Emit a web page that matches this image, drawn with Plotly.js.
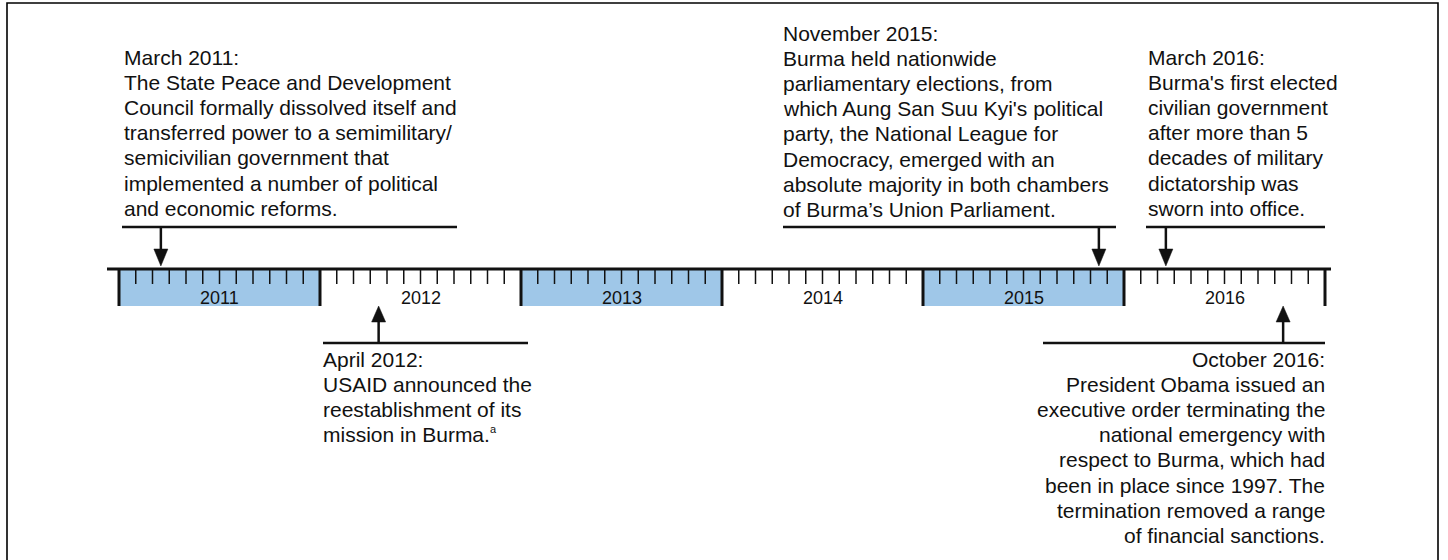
<!DOCTYPE html>
<html>
<head>
<meta charset="utf-8">
<script src="https://cdn.plot.ly/plotly-3.0.1.min.js"></script>
<style>html,body{margin:0;padding:0;background:#fff;}#chart{width:1448px;height:560px;}</style>
</head>
<body>
<div id="chart"></div>
<script>
// ---------------- DATA ----------------
const years = [2011, 2012, 2013, 2014, 2015, 2016];
const yearLabels = ['2011', '2012', '2013', '2014', '2015', '2016'];
const yearShaded = [true, false, true, false, true, false];

const eventYears  = [2011, 2012, 2015, 2016, 2016];
const eventMonths = [3, 4, 11, 3, 10];
const eventSides  = ['above', 'below', 'above', 'above', 'below'];
const eventTitles = ['March 2011:', 'April 2012:', 'November 2015:', 'March 2016:', 'October 2016:'];
const eventLines = [
  ['The State Peace and Development', 'Council formally dissolved itself and', 'transferred power to a semimilitary/', 'semicivilian government that', 'implemented a number of political', 'and economic reforms.'],
  ['USAID announced the', 'reestablishment of its', 'mission in Burma.<sup><span style="font-size:11px">a</span></sup>'],
  ['Burma held nationwide', 'parliamentary elections, from', "which Aung San Suu Kyi's political", 'party, the National League for', 'Democracy, emerged with an', 'absolute majority in both chambers', 'of Burma\u2019s Union Parliament.'],
  ["Burma's first elected", 'civilian government', 'after more than 5', 'decades of military', 'dictatorship was', 'sworn into office.'],
  ['President Obama issued an', 'executive order terminating the', 'national emergency with', 'respect to Burma, which had', 'been in place since 1997. The', 'termination removed a range', 'of financial sanctions.']
];

// ---------------- LAYOUT / STYLE ----------------
const W = 1448, H = 560;
const X0_PX = 119, PX_PER_YEAR = 201, FIRST_YEAR = years[0];
const toX = px => FIRST_YEAR + (px - X0_PX) / PX_PER_YEAR;

const BLUE = '#9fc7e8';
const INK = '#111111';
const FONT = 'Liberation Sans, Arial, Helvetica, sans-serif';
const LINE_Y = 269, BOX_BOTTOM = 306, MINOR_BOTTOM = 284;
const LINE_STEP = 25.2;

// callout placement (pixels)
const callouts = [
  {barL: 122,  barR: 457,  textX: 122,  align: 'left',  textY: 57},
  {barL: 323,  barR: 528,  textX: 321,  align: 'left',  textY: 359},
  {barL: 783,  barR: 1116, textX: 781,  align: 'left',  textY: 33},
  {barL: 1146, barR: 1325, textX: 1146, align: 'left',  textY: 57},
  {barL: 1043, barR: 1325, textX: 1327, align: 'right', textY: 359}
];
const ABOVE = {bar: 227, base: 249, tip: 266};
const BELOW = {bar: 343, base: 322, tip: 306};

const shapes = [];
const annotations = [];

// border frame
shapes.push({type: 'rect', xref: 'paper', yref: 'y', x0: 7 / W, x1: 1438 / W, y0: 3, y1: 600,
  line: {color: '#000', width: 1.6}, fillcolor: 'rgba(0,0,0,0)', layer: 'below'});

// year boxes
years.forEach((y, i) => {
  if (yearShaded[i]) {
    shapes.push({type: 'rect', xref: 'x', yref: 'y', x0: y, x1: y + 1, y0: LINE_Y, y1: BOX_BOTTOM,
      fillcolor: BLUE, line: {width: 0}, layer: 'below'});
  }
  annotations.push({xref: 'x', yref: 'y', x: y + 0.5, y: 298, text: yearLabels[i], showarrow: false,
    xanchor: 'center', yanchor: 'middle', font: {family: FONT, size: 18, color: INK}});
});

// baseline
shapes.push({type: 'line', xref: 'x', yref: 'y', x0: toX(107), x1: toX(1331), y0: LINE_Y, y1: LINE_Y,
  line: {color: INK, width: 3}});

// minor ticks (months) & major ticks (years) via scatter traces
const minorX = [], minorY = [];
years.forEach(y => {
  for (let m = 1; m < 12; m++) {
    minorX.push(y + m / 12, y + m / 12, null);
    minorY.push(LINE_Y, MINOR_BOTTOM, null);
  }
});
const majorX = [], majorY = [];
years.concat([years[years.length - 1] + 1]).forEach(y => {
  majorX.push(y, y, null);
  majorY.push(LINE_Y, BOX_BOTTOM, null);
});

// events
eventYears.forEach((ey, i) => {
  const ex = ey + (eventMonths[i] - 0.5) / 12;
  const c = callouts[i];
  const g = eventSides[i] === 'above' ? ABOVE : BELOW;
  shapes.push({type: 'line', xref: 'x', yref: 'y', x0: toX(c.barL), x1: toX(c.barR), y0: g.bar, y1: g.bar,
    line: {color: INK, width: 2.5}});
  shapes.push({type: 'line', xref: 'x', yref: 'y', x0: ex, x1: ex, y0: g.bar, y1: g.base,
    line: {color: INK, width: 2.5}});
  shapes.push({type: 'path', xref: 'x', yref: 'y', xsizemode: 'pixel', xanchor: ex,
    path: `M -7 ${g.base} L 7 ${g.base} L 0 ${g.tip} Z`, fillcolor: INK, line: {color: INK, width: 0.5}});
  const lines = [eventTitles[i]].concat(eventLines[i]);
  lines.forEach((t, k) => {
    annotations.push({xref: 'paper', yref: 'y', x: c.textX / W, y: c.textY + k * LINE_STEP, text: t,
      showarrow: false, xanchor: c.align, yanchor: 'middle', align: c.align,
      font: {family: FONT, size: 21, color: INK}});
  });
});

const traces = [
  {x: minorX, y: minorY, mode: 'lines', line: {color: INK, width: 1.5}, hoverinfo: 'skip', showlegend: false},
  {x: majorX, y: majorY, mode: 'lines', line: {color: INK, width: 3}, hoverinfo: 'skip', showlegend: false}
];

const layout = {
  width: W, height: H,
  margin: {l: 0, r: 0, t: 0, b: 0},
  paper_bgcolor: '#fff', plot_bgcolor: '#fff',
  xaxis: {range: [toX(0), toX(W)], visible: false, fixedrange: true},
  yaxis: {range: [H, 0], visible: false, fixedrange: true},
  shapes: shapes,
  annotations: annotations,
  showlegend: false
};

Plotly.newPlot('chart', traces, layout, {staticPlot: true, displayModeBar: false});
</script>
</body>
</html>
